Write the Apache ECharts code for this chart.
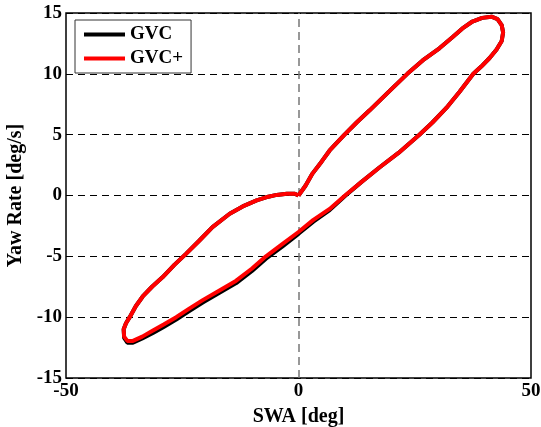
<!DOCTYPE html>
<html>
<head>
<meta charset="utf-8">
<script src="https://cdn.jsdelivr.net/npm/echarts@6/dist/echarts.min.js"></script>
<style>
  html, body { margin: 0; padding: 0; background: #fff; }
  #chart { width: 541px; height: 427px; }
</style>
</head>
<body>
<div id="chart"></div>
<script>
// steering wheel angle loop
const swa = [0, 1.5, 3.0, 5.0, 6.7, 9.9, 12.5, 15.3, 19.6, 23.4, 26.7, 30.3, 33.1, 35.5, 37.4, 39.5, 41.5, 42.8, 43.7, 44.0,
  43.7, 42.6, 41.1, 39.3, 37.6, 34.6, 31.8, 28.8, 26.0, 21.5, 17.4, 13.5, 10.0, 6.7, 3.2, 0, -3.5, -7.0, -10.0, -13.4,
  -17.0, -20.6, -23.5, -26.3, -29.0, -31.3, -33.6, -35.6, -36.8, -37.5, -37.6, -37.1, -36.3, -35.0, -33.5, -31.5, -29.2, -26.7, -24.2, -21.3,
  -18.5, -14.8, -12.0, -9.0, -6.5, -4.7, -2.5, -0.8, 0];

const yawGvcPlus = [0, 0.8, 1.8, 2.8, 3.7, 5.0, 6.0, 7.0, 8.6, 10.0, 11.1, 12.1, 13.0, 13.8, 14.3, 14.6, 14.7, 14.5, 14.0, 13.4,
  12.7, 12.0, 11.3, 10.6, 10.0, 8.5, 7.2, 6.0, 5.0, 3.5, 2.3, 1.1, 0, -1.1, -2.0, -3.0, -4.0, -5.0, -6.0, -7.0,
  -7.8, -8.6, -9.3, -10.0, -10.6, -11.1, -11.6, -11.95, -11.95, -11.6, -11.0, -10.5, -10.0, -9.1, -8.3, -7.5, -6.7, -5.7, -4.8, -3.7,
  -2.6, -1.5, -0.9, -0.4, -0.1, 0.05, 0.15, 0.15, 0];

const yawGvc = [0, 0.8, 1.8, 2.8, 3.7, 5.0, 6.0, 7.0, 8.6, 10.0, 11.1, 12.1, 13.0, 13.8, 14.3, 14.6, 14.7, 14.5, 14.0, 13.4,
  12.7, 12.0, 11.3, 10.6, 10.0, 8.5, 7.2, 6.0, 5.0, 3.5, 2.3, 1.1, -0.05, -1.2, -2.15, -3.15, -4.2, -5.2, -6.2, -7.2,
  -8.0, -8.8, -9.5, -10.2, -10.8, -11.3, -11.75, -12.1, -12.1, -11.7, -11.0, -10.5, -10.0, -9.1, -8.3, -7.5, -6.7, -5.7, -4.8, -3.7,
  -2.6, -1.5, -0.9, -0.4, -0.1, 0.05, 0.15, 0.15, 0];

const xTicks = { min: -50, max: 50, step: 50 };
const yTicks = { min: -15, max: 15, step: 5 };

const font = 'Liberation Serif, Times New Roman, serif';

const chart = echarts.init(document.getElementById('chart'));
const option = {
  animation: false,
  backgroundColor: '#fff',
  grid: {
    left: 66, right: 10, top: 13, bottom: 49,
    outerBoundsMode: 'none',
    show: true, borderColor: '#000', borderWidth: 1.5, backgroundColor: '#fff'
  },
  legend: {
    orient: 'vertical',
    left: 75, top: 20,
    padding: [5, 8, 5, 9],
    itemGap: 5,
    itemWidth: 41, itemHeight: 4,
    icon: 'rect',
    borderColor: '#333', borderWidth: 1,
    backgroundColor: '#fff',
    textStyle: { fontFamily: font, fontWeight: 'bold', fontSize: 19, color: '#000' },
    data: ['GVC', 'GVC+']
  },
  xAxis: {
    type: 'value',
    min: xTicks.min, max: xTicks.max, interval: xTicks.step,
    name: 'SWA [deg]', nameLocation: 'middle', nameGap: 29,
    nameTextStyle: { fontFamily: font, fontWeight: 'bold', fontSize: 20, color: '#000' },
    axisLine: { show: false },
    axisTick: { show: false },
    splitLine: { show: false },
    axisLabel: { fontFamily: font, fontWeight: 'bold', fontSize: 19, color: '#000', margin: 4 }
  },
  yAxis: {
    type: 'value',
    min: yTicks.min, max: yTicks.max, interval: yTicks.step,
    name: 'Yaw Rate [deg/s]', nameLocation: 'middle', nameGap: 38,
    nameTextStyle: { fontFamily: font, fontWeight: 'bold', fontSize: 20, color: '#000' },
    axisLine: { show: false },
    axisTick: { show: false },
    splitLine: { show: true, lineStyle: { color: '#000', width: 1, type: [7, 5] } },
    axisLabel: { fontFamily: font, fontWeight: 'bold', fontSize: 19, color: '#000', margin: 4 }
  },
  series: [
    {
      name: 'GVC',
      type: 'line',
      showSymbol: false,
      z: 3,
      lineStyle: { color: '#000', width: 4 },
      itemStyle: { color: '#000' },
      data: swa.map((x, i) => [x, yawGvc[i]]),
      markLine: {
        silent: true, symbol: 'none', z: 1,
        label: { show: false },
        lineStyle: { color: '#777', type: [8, 5], width: 1.5 },
        data: [{ xAxis: 0 }]
      }
    },
    {
      name: 'GVC+',
      type: 'line',
      showSymbol: false,
      z: 4,
      lineStyle: { color: '#ff0000', width: 4 },
      itemStyle: { color: '#ff0000' },
      data: swa.map((x, i) => [x, yawGvcPlus[i]])
    }
  ]
};
chart.setOption(option);
</script>
</body>
</html>
